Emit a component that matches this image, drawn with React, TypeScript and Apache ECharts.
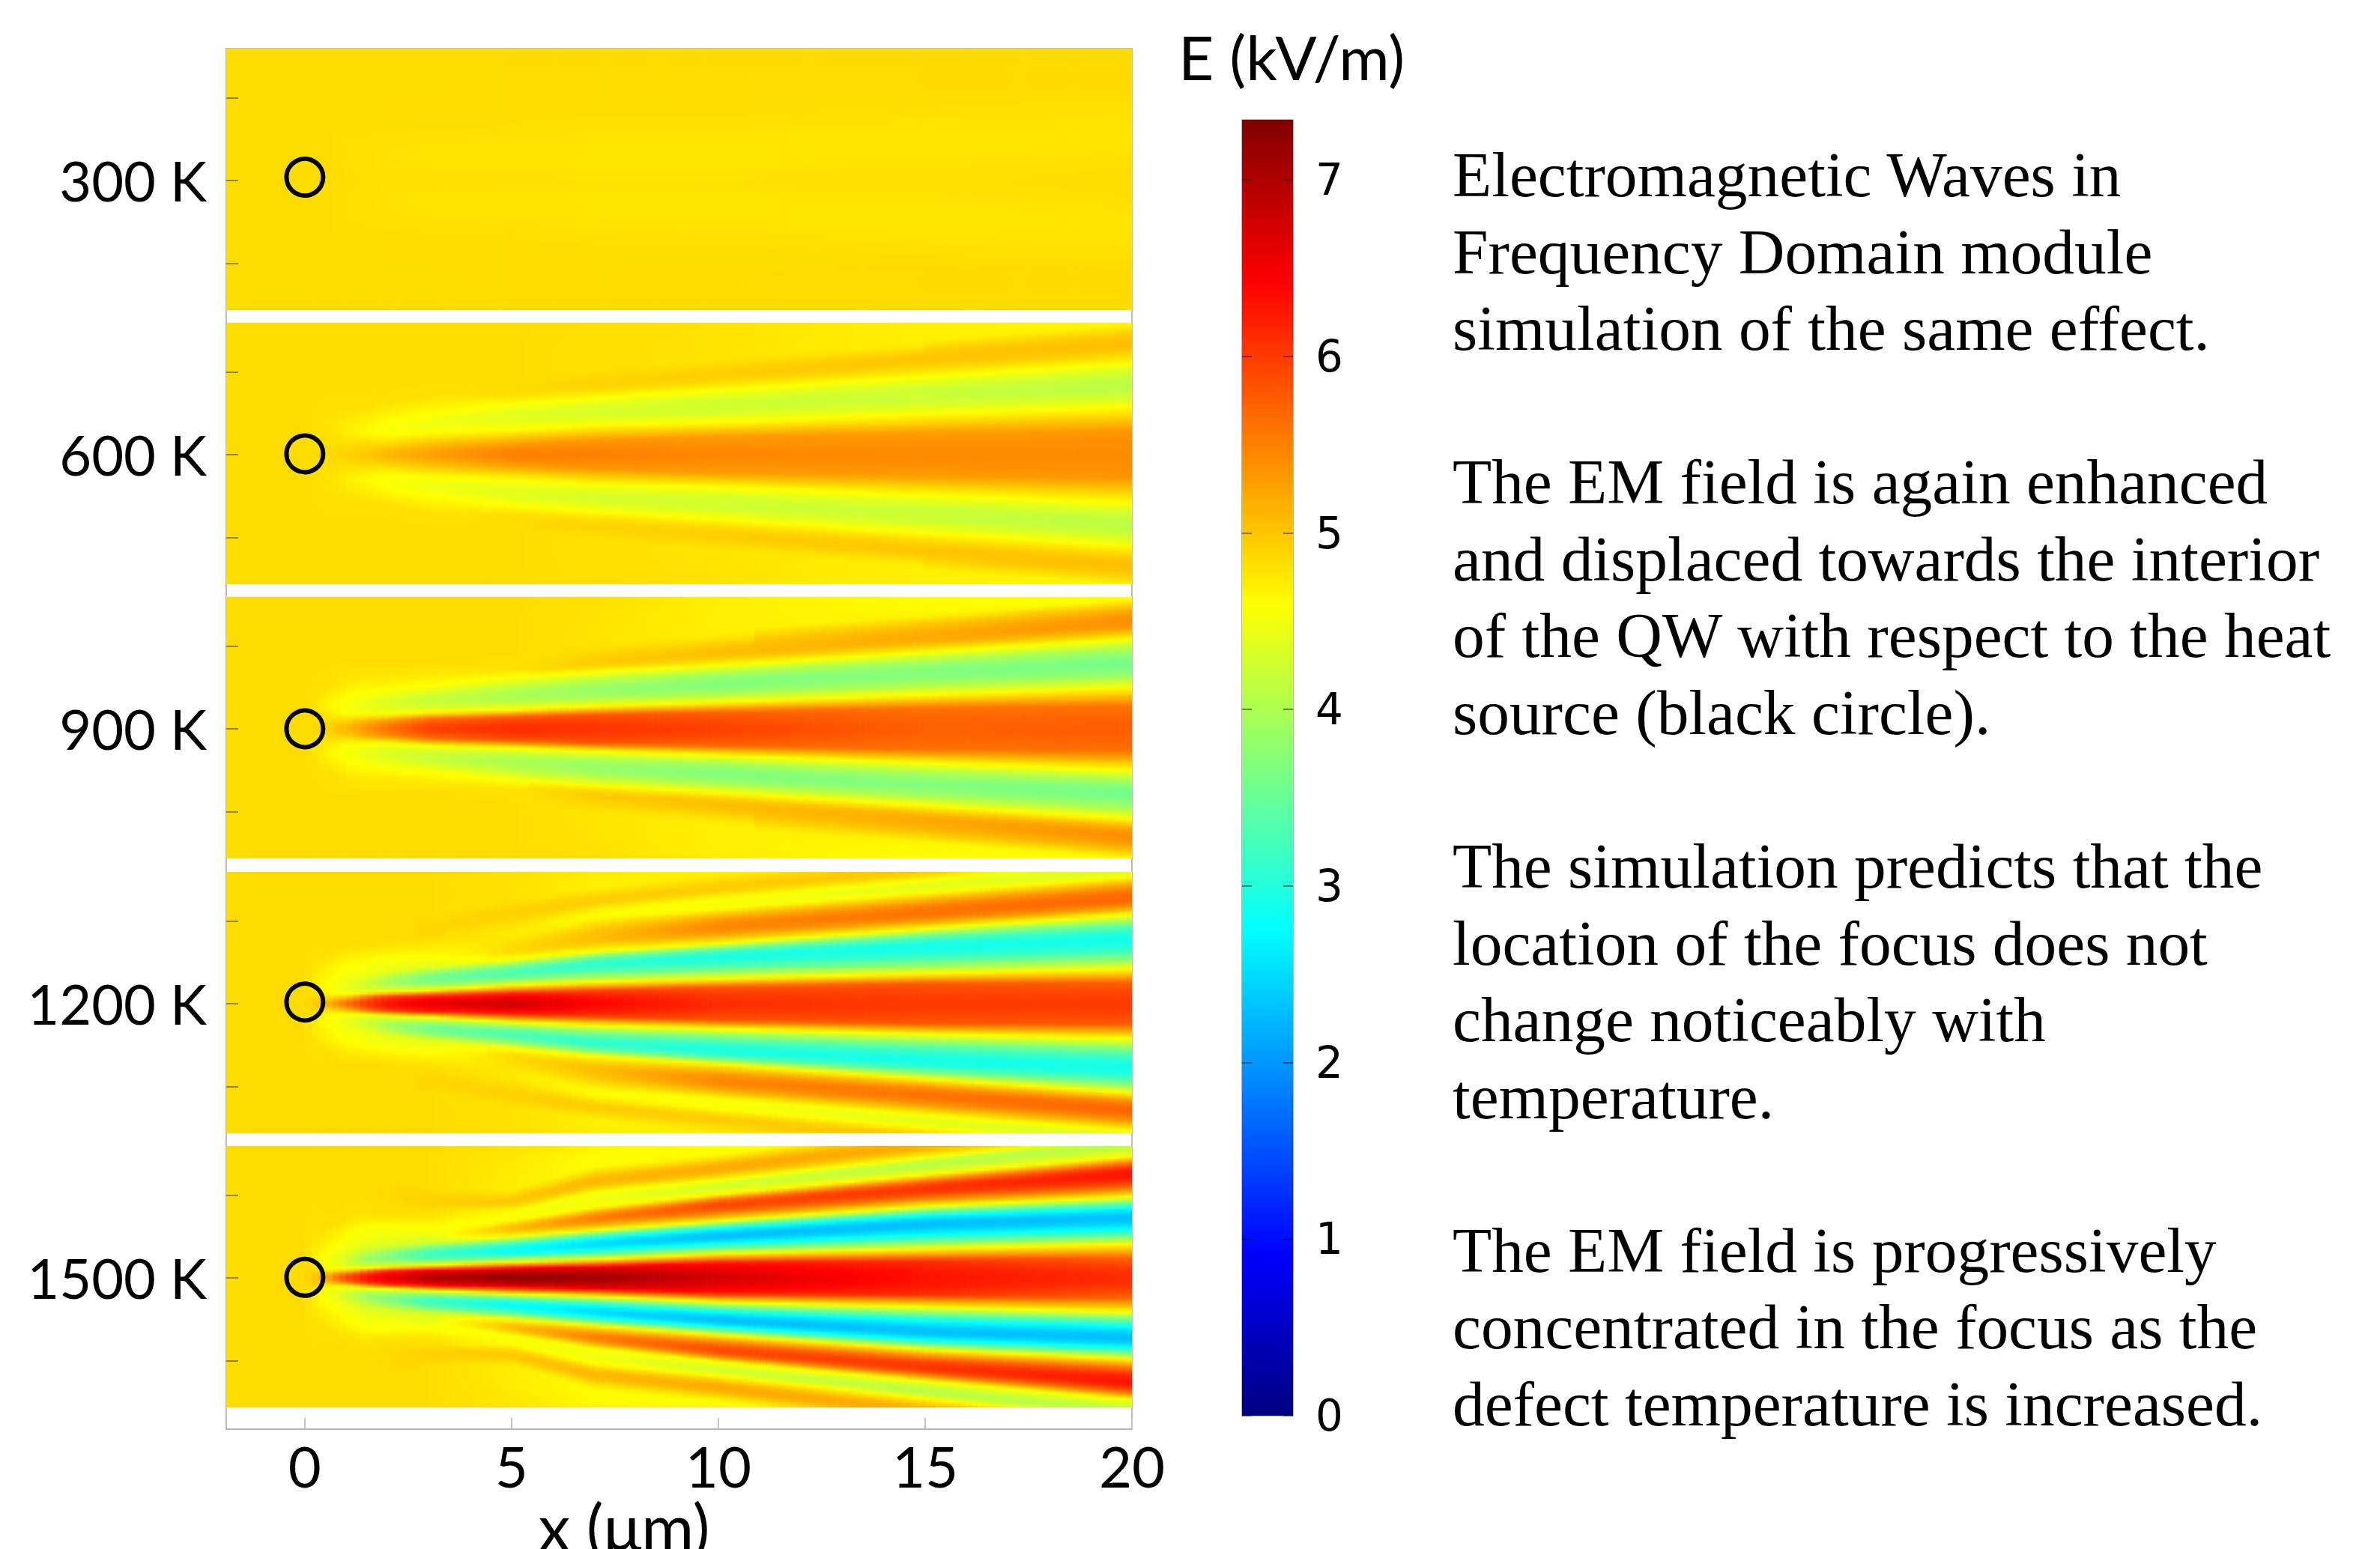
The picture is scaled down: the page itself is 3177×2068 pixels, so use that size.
import React, { useEffect, useRef } from "react";
import * as echarts from "echarts";

const X_MIN = -1.9;
const X_MAX = 20;
const Y_MIN = -1.566;
const Y_MAX = 1.593;
const E_MAX = 7.34;

const xCols = [-1.9, 0, 0.5, 1, 1.5, 2, 3, 5, 7, 10, 15, 20];
const xTicks = [0, 5, 10, 15, 20];
const eTicks = [0, 1, 2, 3, 4, 5, 6, 7];
const panelLabels = ["300 K", "600 K", "900 K", "1200 K", "1500 K"];
const panelTops = [65, 431, 797, 1164, 1530];
const circleY = [0.04, 0.01, 0, 0.02, 0.006];

// jet colour bar: [E value, colour]
const jetE = [0, 0.92, 2.75, 4.59, 6.42, 7.34];
const jetRGB = [
  [0, 0, 128],
  [0, 0, 255],
  [0, 255, 255],
  [255, 255, 0],
  [255, 0, 0],
  [128, 0, 0],
];

// Field tables: one row per xCols entry, distance from the panel axis and E there.
const y300 = [
  [0, 0.25, 0.5, 0.8, 1.2, 1.8],
  [0, 0.25, 0.5, 0.8, 1.2, 1.8],
  [0, 0.25, 0.5, 0.8, 1.2, 1.8],
  [0, 0.25, 0.5, 0.8, 1.2, 1.8],
  [0, 0.25, 0.5, 0.8, 1.2, 1.8],
  [0, 0.25, 0.5, 0.8, 1.2, 1.8],
  [0, 0.25, 0.5, 0.8, 1.2, 1.8],
  [0, 0.25, 0.5, 0.8, 1.2, 1.8],
  [0, 0.25, 0.5, 0.8, 1.2, 1.8],
  [0, 0.25, 0.5, 0.8, 1.2, 1.8],
  [0, 0.25, 0.5, 0.8, 1.2, 1.8],
  [0, 0.25, 0.5, 0.8, 1.2, 1.8],
];
const e300 = [
  [4.84, 4.84, 4.84, 4.84, 4.84, 4.84],
  [4.84, 4.84, 4.84, 4.84, 4.84, 4.84],
  [4.84, 4.84, 4.84, 4.84, 4.84, 4.84],
  [4.84, 4.83, 4.83, 4.84, 4.84, 4.84],
  [4.83, 4.82, 4.83, 4.84, 4.84, 4.84],
  [4.82, 4.8, 4.82, 4.85, 4.84, 4.84],
  [4.82, 4.78, 4.81, 4.85, 4.84, 4.84],
  [4.81, 4.78, 4.8, 4.85, 4.85, 4.84],
  [4.8, 4.77, 4.79, 4.84, 4.85, 4.84],
  [4.8, 4.77, 4.78, 4.84, 4.85, 4.84],
  [4.82, 4.78, 4.76, 4.82, 4.86, 4.84],
  [4.85, 4.82, 4.78, 4.8, 4.86, 4.82],
];

const y600 = [
  [0, 0.1, 0.2, 0.3, 0.4, 0.55, 0.8, 1.8],
  [0, 0.1, 0.2, 0.3, 0.4, 0.55, 0.8, 1.8],
  [0, 0.1, 0.2, 0.3, 0.4, 0.55, 0.8, 1.8],
  [0, 0.1, 0.2, 0.3, 0.4, 0.55, 0.8, 1.8],
  [0, 0.1, 0.2, 0.3, 0.42, 0.58, 0.8, 1.8],
  [0, 0.1, 0.2, 0.32, 0.46, 0.6, 0.8, 1.8],
  [0, 0.12, 0.25, 0.38, 0.52, 0.7, 0.9, 1.8],
  [0, 0.14, 0.3, 0.46, 0.625, 0.78, 0.95, 1.8],
  [0, 0.18, 0.356, 0.52, 0.69, 0.855, 1.05, 1.8],
  [0, 0.22, 0.39, 0.59, 0.785, 0.97, 1.18, 1.8],
  [0, 0.26, 0.486, 0.72, 0.95, 1.16, 1.38, 1.8],
  [0, 0.28, 0.58, 0.845, 1.11, 1.35, 1.58, 1.8],
];
const e600 = [
  [4.84, 4.84, 4.84, 4.84, 4.84, 4.84, 4.84, 4.84],
  [4.84, 4.84, 4.84, 4.84, 4.84, 4.84, 4.84, 4.84],
  [4.85, 4.84, 4.82, 4.8, 4.8, 4.82, 4.84, 4.84],
  [4.9, 4.85, 4.78, 4.72, 4.75, 4.82, 4.84, 4.84],
  [4.98, 4.9, 4.72, 4.62, 4.7, 4.82, 4.84, 4.84],
  [5.1, 4.95, 4.67, 4.55, 4.65, 4.8, 4.84, 4.84],
  [5.25, 5.05, 4.65, 4.5, 4.62, 4.8, 4.84, 4.84],
  [5.5, 5.25, 4.6, 4.4, 4.6, 4.85, 4.84, 4.84],
  [5.5, 5.3, 4.6, 4.3, 4.6, 4.9, 4.82, 4.84],
  [5.45, 5.3, 4.6, 4.25, 4.6, 4.95, 4.78, 4.82],
  [5.42, 5.3, 4.6, 4.2, 4.6, 5, 4.7, 4.7],
  [5.42, 5.35, 4.6, 4.1, 4.6, 5.05, 4.65, 4.6],
];

const y900 = [
  [0, 0.1, 0.2, 0.3, 0.4, 0.55, 0.8, 1.8],
  [0, 0.1, 0.2, 0.3, 0.4, 0.55, 0.8, 1.8],
  [0, 0.08, 0.2, 0.3, 0.4, 0.55, 0.8, 1.8],
  [0, 0.08, 0.18, 0.28, 0.4, 0.55, 0.8, 1.8],
  [0, 0.1, 0.17, 0.28, 0.42, 0.6, 0.8, 1.8],
  [0, 0.1, 0.17, 0.3, 0.46, 0.6, 0.8, 1.8],
  [0, 0.12, 0.2, 0.34, 0.5, 0.65, 0.8, 1.8],
  [0, 0.14, 0.23, 0.39, 0.6, 0.725, 0.9, 1.8],
  [0, 0.17, 0.27, 0.46, 0.68, 0.8, 1.06, 1.8],
  [0, 0.2, 0.32, 0.54, 0.77, 0.915, 1.18, 1.8],
  [0, 0.25, 0.41, 0.68, 0.93, 1.105, 1.375, 1.8],
  [0, 0.27, 0.5, 0.785, 1.09, 1.3, 1.57, 1.8],
];
const e900 = [
  [4.84, 4.84, 4.84, 4.84, 4.84, 4.84, 4.84, 4.84],
  [4.84, 4.84, 4.84, 4.84, 4.84, 4.84, 4.84, 4.84],
  [4.9, 4.85, 4.72, 4.7, 4.75, 4.82, 4.84, 4.84],
  [5.1, 4.95, 4.6, 4.55, 4.62, 4.75, 4.84, 4.84],
  [5.35, 5.1, 4.6, 4.45, 4.55, 4.75, 4.84, 4.84],
  [5.6, 5.3, 4.6, 4.35, 4.55, 4.75, 4.84, 4.84],
  [5.95, 5.6, 4.6, 4.2, 4.55, 4.75, 4.84, 4.84],
  [6.1, 5.8, 4.6, 4, 4.5, 4.8, 4.84, 4.84],
  [6.05, 5.8, 4.6, 3.85, 4.55, 4.95, 4.78, 4.85],
  [5.95, 5.7, 4.6, 3.7, 4.6, 5.05, 4.7, 4.72],
  [5.73, 5.6, 4.6, 3.7, 4.6, 5.2, 4.65, 4.55],
  [5.75, 5.6, 4.6, 3.6, 4.6, 5.4, 4.6, 4.55],
];

const y1200 = [
  [0, 0.1, 0.2, 0.3, 0.4, 0.5, 0.6, 0.8, 1, 1.2, 1.4, 1.8],
  [0, 0.1, 0.2, 0.3, 0.4, 0.5, 0.6, 0.8, 1, 1.2, 1.4, 1.8],
  [0, 0.05, 0.12, 0.2, 0.3, 0.42, 0.55, 0.7, 0.85, 1, 1.4, 1.8],
  [0, 0.06, 0.12, 0.2, 0.3, 0.42, 0.55, 0.7, 0.85, 1, 1.4, 1.8],
  [0, 0.08, 0.13, 0.22, 0.36, 0.48, 0.6, 0.72, 0.85, 1, 1.4, 1.8],
  [0, 0.09, 0.14, 0.26, 0.4, 0.55, 0.62, 0.75, 0.88, 1, 1.4, 1.8],
  [0, 0.1, 0.16, 0.3, 0.44, 0.56, 0.66, 0.78, 0.84, 0.9, 1.1, 1.8],
  [0, 0.12, 0.22, 0.37, 0.53, 0.65, 0.78, 0.85, 0.95, 1.1, 1.3, 1.8],
  [0, 0.15, 0.26, 0.48, 0.63, 0.8, 1.03, 1.08, 1.14, 1.25, 1.42, 1.8],
  [0, 0.2, 0.3, 0.57, 0.73, 0.93, 1.145, 1.2, 1.28, 1.4, 1.6, 1.9],
  [0, 0.24, 0.365, 0.69, 0.91, 1.1, 1.34, 1.42, 1.5, 1.63, 1.8, 2],
  [0, 0.25, 0.42, 0.78, 1.08, 1.28, 1.535, 1.62, 1.75, 1.9, 2.05, 2.2],
];
const e1200 = [
  [4.84, 4.84, 4.84, 4.84, 4.84, 4.84, 4.84, 4.84, 4.84, 4.84, 4.84, 4.84],
  [4.84, 4.84, 4.84, 4.84, 4.84, 4.84, 4.84, 4.84, 4.84, 4.84, 4.84, 4.84],
  [5.1, 4.9, 4.65, 4.6, 4.65, 4.7, 4.8, 4.84, 4.84, 4.84, 4.84, 4.84],
  [5.6, 5.2, 4.6, 4.45, 4.5, 4.55, 4.7, 4.84, 4.84, 4.84, 4.84, 4.84],
  [6, 5.6, 4.6, 4.25, 4.5, 4.55, 4.7, 4.84, 4.84, 4.84, 4.84, 4.84],
  [6.3, 5.9, 4.6, 4, 4.45, 4.55, 4.7, 4.84, 4.84, 4.84, 4.84, 4.84],
  [6.55, 6.1, 4.6, 3.6, 4.4, 4.55, 4.7, 4.84, 4.86, 4.88, 4.84, 4.84],
  [6.75, 6.2, 4.6, 3.3, 4.5, 4.85, 4.78, 4.75, 4.8, 4.92, 4.8, 4.84],
  [6.4, 6, 4.6, 3.1, 4.55, 5.05, 4.65, 4.62, 4.7, 4.95, 4.7, 4.84],
  [6.1, 5.8, 4.6, 2.95, 4.6, 5.45, 4.6, 4.55, 4.62, 4.95, 4.7, 4.8],
  [6, 5.8, 4.6, 2.9, 4.6, 5.6, 4.6, 4.4, 4.6, 5, 4.7, 4.8],
  [6, 5.75, 4.6, 2.9, 4.6, 5.7, 4.6, 4.35, 4.6, 5, 4.7, 4.8],
];

const y1500 = [
  [0, 0.1, 0.2, 0.3, 0.4, 0.5, 0.6, 0.8, 1, 1.2, 1.4, 1.8],
  [0, 0.1, 0.2, 0.3, 0.4, 0.5, 0.6, 0.8, 1, 1.2, 1.4, 1.8],
  [0, 0.05, 0.1, 0.2, 0.3, 0.4, 0.5, 0.6, 0.8, 1, 1.2, 1.8],
  [0, 0.05, 0.1, 0.2, 0.35, 0.45, 0.55, 0.7, 0.85, 1, 1.2, 1.8],
  [0, 0.07, 0.12, 0.22, 0.36, 0.48, 0.6, 0.72, 0.85, 1, 1.2, 1.8],
  [0, 0.08, 0.13, 0.25, 0.38, 0.5, 0.6, 0.72, 0.85, 1, 1.2, 1.8],
  [0, 0.09, 0.15, 0.28, 0.42, 0.52, 0.6, 0.72, 0.82, 0.9, 1.1, 1.8],
  [0, 0.11, 0.19, 0.33, 0.5, 0.6, 0.69, 0.75, 0.81, 0.93, 1.08, 1.8],
  [0, 0.13, 0.22, 0.41, 0.58, 0.72, 0.85, 0.95, 1.04, 1.17, 1.38, 1.8],
  [0, 0.18, 0.29, 0.51, 0.69, 0.88, 1.01, 1.118, 1.185, 1.326, 1.52, 1.85],
  [0, 0.2, 0.35, 0.655, 0.867, 1.08, 1.245, 1.375, 1.46, 1.62, 1.85, 2],
  [0, 0.24, 0.41, 0.73, 0.98, 1.26, 1.47, 1.63, 1.72, 1.85, 2, 2.1],
];
const e1500 = [
  [4.84, 4.84, 4.84, 4.84, 4.84, 4.84, 4.84, 4.84, 4.84, 4.84, 4.84, 4.84],
  [4.84, 4.84, 4.84, 4.84, 4.84, 4.84, 4.84, 4.84, 4.84, 4.84, 4.84, 4.84],
  [5.2, 5, 4.65, 4.55, 4.6, 4.7, 4.75, 4.8, 4.84, 4.84, 4.84, 4.84],
  [5.9, 5.6, 4.6, 4.3, 4.5, 4.55, 4.65, 4.8, 4.84, 4.84, 4.84, 4.84],
  [6.3, 5.9, 4.6, 3.9, 4.35, 4.5, 4.55, 4.75, 4.82, 4.84, 4.84, 4.84],
  [6.55, 6.2, 4.6, 3.7, 4.3, 4.5, 4.55, 4.78, 4.84, 4.86, 4.84, 4.84],
  [6.95, 6.4, 4.6, 3.2, 4.25, 4.45, 4.55, 4.78, 4.84, 4.92, 4.84, 4.84],
  [7.2, 6.5, 4.6, 2.8, 4.55, 5.05, 4.6, 4.55, 4.62, 4.98, 4.72, 4.84],
  [7.1, 6.5, 4.6, 2.5, 4.6, 5.5, 4.6, 4.5, 4.6, 5.1, 4.6, 4.84],
  [6.7, 6.3, 4.6, 2.3, 4.6, 5.9, 4.6, 4.3, 4.6, 5.2, 4.6, 4.8],
  [6.3, 6.1, 4.6, 2.3, 4.6, 6.05, 4.6, 4.1, 4.6, 5.2, 4.6, 4.8],
  [6.1, 5.7, 4.6, 2.3, 4.6, 6.3, 4.6, 4.1, 4.6, 5.2, 4.6, 4.8],
];

const fieldY = [y300, y600, y900, y1200, y1500];
const fieldE = [e300, e600, e900, e1200, e1500];

const bodyLines = [
  "Electromagnetic Waves in",
  "Frequency Domain module",
  "simulation of the same effect.",
  "",
  "The EM field is again enhanced",
  "and displaced towards the interior",
  "of the QW with respect to the heat",
  "source (black circle).",
  "",
  "The simulation predicts that the",
  "location of the focus does not",
  "change noticeably with",
  "temperature.",
  "",
  "The EM field is progressively",
  "concentrated in the focus as the",
  "defect temperature is increased.",
];

function jetColor(v: number): string {
  const e = Math.min(E_MAX, Math.max(0, v));
  let i = 0;
  while (i < jetE.length - 2 && e > jetE[i + 1]) i++;
  const t = (e - jetE[i]) / (jetE[i + 1] - jetE[i]);
  const a = jetRGB[i];
  const b = jetRGB[i + 1];
  return `rgb(${Math.round(a[0] + (b[0] - a[0]) * t)},${Math.round(a[1] + (b[1] - a[1]) * t)},${Math.round(a[2] + (b[2] - a[2]) * t)})`;
}

function isExtreme(es: number[], k: number): boolean {
  if (k === 0) return true;
  if (k === es.length - 1) return false;
  return (es[k] - es[k - 1]) * (es[k + 1] - es[k]) < 0;
}

// E at height y in a column described by its stops (mirrored about the axis);
// the profile rounds off towards each crest and trough.
function eAt(ys: number[], es: number[], y: number): number {
  const d = Math.abs(y);
  for (let i = 0; i < ys.length - 1; i++) {
    if (d <= ys[i + 1]) {
      let t = (d - ys[i]) / (ys[i + 1] - ys[i]);
      const ea = isExtreme(es, i);
      const eb = isExtreme(es, i + 1);
      if (eb && !ea) t = Math.sin((t * Math.PI) / 2);
      else if (ea && !eb) t = 1 - Math.cos((t * Math.PI) / 2);
      else if (ea && eb) t = (1 - Math.cos(t * Math.PI)) / 2;
      return es[i] + (es[i + 1] - es[i]) * t;
    }
  }
  return es[es.length - 1];
}

const SLICE_PX = 8;
const ROWS = 88;

function shade(panel: number) {
  const Y = fieldY[panel];
  const E = fieldE[panel];
  return (_: any, api: any) => {
    const i = api.value(2);
    const x0 = api.value(0);
    const x1 = api.value(1);
    const pa = api.coord([x0, Y_MAX]);
    const pb = api.coord([x1, Y_MIN]);
    const n = Math.max(1, Math.round((pb[0] - pa[0]) / SLICE_PX));
    const children: any[] = [];
    for (let s = 0; s < n; s++) {
      const t = (s + 0.5) / n;
      const ys = Y[i].map((y, k) => y + (Y[i + 1][k] - y) * t);
      const es = E[i].map((e, k) => e + (E[i + 1][k] - e) * t);
      const stops: any[] = [];
      for (let r = 0; r <= ROWS; r++) {
        const f = r / ROWS;
        const y = Y_MAX + (Y_MIN - Y_MAX) * f;
        stops.push({ offset: f, color: jetColor(eAt(ys, es, y)) });
      }
      const left = pa[0] + ((pb[0] - pa[0]) * s) / n;
      const w = (pb[0] - pa[0]) / n;
      children.push({
        type: "rect",
        shape: { x: left, y: pa[1], width: s === n - 1 && i === xCols.length - 2 ? w : w + 0.7, height: pb[1] - pa[1] },
        style: { fill: new echarts.graphic.LinearGradient(0, 0, 0, 1, stops) },
      });
    }
    return { type: "group", children };
  };
}

const LATO = "Lato";

function buildOption() {
  const grid: any[] = [];
  const xAxis: any[] = [];
  const yAxis: any[] = [];
  const series: any[] = [];

  panelTops.forEach((top, p) => {
    grid.push({ left: 302, top, width: 1209, height: 349 });
    xAxis.push({ type: "value", gridIndex: p, min: X_MIN, max: X_MAX, show: false, axisLine: { onZero: false } });
    yAxis.push({
      type: "value",
      gridIndex: p,
      position: "left",
      min: Y_MIN,
      max: Y_MAX,
      z: 6,
      splitLine: { show: false },
      axisLine: { show: false, onZero: false },
      axisTick: {
        show: true,
        inside: true,
        length: 16,
        customValues: [-1, 0, 1],
        lineStyle: { color: "rgba(70,60,0,0.75)", width: 1.5 },
      },
      axisLabel: {
        show: true,
        customValues: [0],
        formatter: () => panelLabels[p],
        fontFamily: LATO,
        fontSize: 74,
        color: "#000",
        margin: 26,
        padding: [0, 0, 10, 0],
      },
    });
    series.push({
      type: "custom",
      name: panelLabels[p],
      xAxisIndex: p,
      yAxisIndex: p,
      z: 2,
      silent: true,
      encode: { x: [0, 1] },
      data: xCols.slice(0, -1).map((x, i) => [x, xCols[i + 1], i]),
      renderItem: shade(p),
    });
    series.push({
      type: "scatter",
      name: "heat source",
      xAxisIndex: p,
      yAxisIndex: p,
      z: 4,
      silent: true,
      symbol: "circle",
      symbolSize: 49,
      itemStyle: { color: "rgba(0,0,0,0)", borderColor: "#000", borderWidth: 6, opacity: 1 },
      data: [[0, circleY[p]]],
    });
  });

  // frame with the x axis
  grid.push({ left: 302, top: 65, width: 1209, height: 1843, show: true, borderColor: "#bdbdbd", borderWidth: 2, backgroundColor: "transparent" });
  xAxis.push({
    type: "value",
    gridIndex: 5,
    min: X_MIN,
    max: X_MAX,
    splitLine: { show: false },
    axisLine: { show: true, onZero: false, lineStyle: { color: "#b5b5b5", width: 2 } },
    axisTick: { show: true, inside: true, length: 15, customValues: xTicks, lineStyle: { color: "#c4c4c4", width: 2 } },
    axisLabel: { show: true, customValues: xTicks, fontFamily: LATO, fontSize: 76, color: "#000", margin: 10 },
  });
  yAxis.push({ type: "value", gridIndex: 5, min: 0, max: 1, show: false, axisLine: { onZero: false } });

  // colour bar
  grid.push({ left: 1658, top: 160, width: 68, height: 1730, show: true, borderColor: "#9a9a9a", borderWidth: 1.5, backgroundColor: "transparent" });
  xAxis.push({ type: "value", gridIndex: 6, min: 0, max: 1, show: false, axisLine: { onZero: false } });
  const tickStyle = { color: "rgba(0,0,0,0.6)", width: 1.5 };
  yAxis.push({
    type: "value",
    gridIndex: 6,
    position: "right",
    min: 0,
    max: E_MAX,
    z: 6,
    splitLine: { show: false },
    axisLine: { show: false, onZero: false },
    axisTick: { show: true, inside: true, length: 13, customValues: eTicks, lineStyle: tickStyle },
    axisLabel: { show: true, customValues: eTicks, fontFamily: "DejaVu Sans", fontSize: 58, color: "#000", margin: 30, padding: [5, 0, 0, 0] },
  });
  yAxis.push({
    type: "value",
    gridIndex: 6,
    position: "left",
    min: 0,
    max: E_MAX,
    z: 6,
    splitLine: { show: false },
    axisLine: { show: false, onZero: false },
    axisTick: { show: true, inside: true, length: 13, customValues: eTicks, lineStyle: tickStyle },
    axisLabel: { show: false },
  });
  series.push({
    type: "custom",
    name: "E (kV/m)",
    xAxisIndex: 6,
    yAxisIndex: 6,
    z: 2,
    silent: true,
    encode: { y: 0 },
    data: [[E_MAX]],
    renderItem: (_: any, api: any) => {
      const a = api.coord([0, api.value(0)]);
      const b = api.coord([1, 0]);
      return {
        type: "rect",
        shape: { x: a[0], y: a[1], width: b[0] - a[0], height: b[1] - a[1] },
        style: {
          fill: new echarts.graphic.LinearGradient(
            0,
            0,
            0,
            1,
            jetE.map((e) => ({ offset: 1 - e / E_MAX, color: jetColor(e) })).reverse(),
          ),
        },
      };
    },
  });

  const graphic: any[] = [
    {
      type: "text",
      x: 833,
      y: 2037,
      style: { text: "x (μm)", fontFamily: LATO, fontSize: 85, fill: "#000", align: "center", verticalAlign: "middle" },
    },
    {
      type: "text",
      x: 1724,
      y: 75,
      style: { text: "E (kV/m)", fontFamily: LATO, fontSize: 82, fill: "#000", align: "center", verticalAlign: "middle" },
    },
  ];
  bodyLines.forEach((line, i) => {
    if (!line) return;
    graphic.push({
      type: "text",
      x: 1939,
      y: 233 + i * 102.56,
      style: { text: line, fontFamily: "Liberation Serif", fontSize: 85.4, fill: "#000", align: "left", verticalAlign: "middle" },
    });
  });

  return { animation: false, backgroundColor: "#fff", grid, xAxis, yAxis, series, graphic };
}

export default function App() {
  const ref = useRef<HTMLDivElement>(null);
  useEffect(() => {
    const chart = echarts.init(ref.current!, null, { renderer: "svg" });
    chart.setOption(buildOption());
    return () => chart.dispose();
  }, []);
  return <div ref={ref} style={{ position: "absolute", left: 0, top: 0, width: 3177, height: 2068 }} />;
}
